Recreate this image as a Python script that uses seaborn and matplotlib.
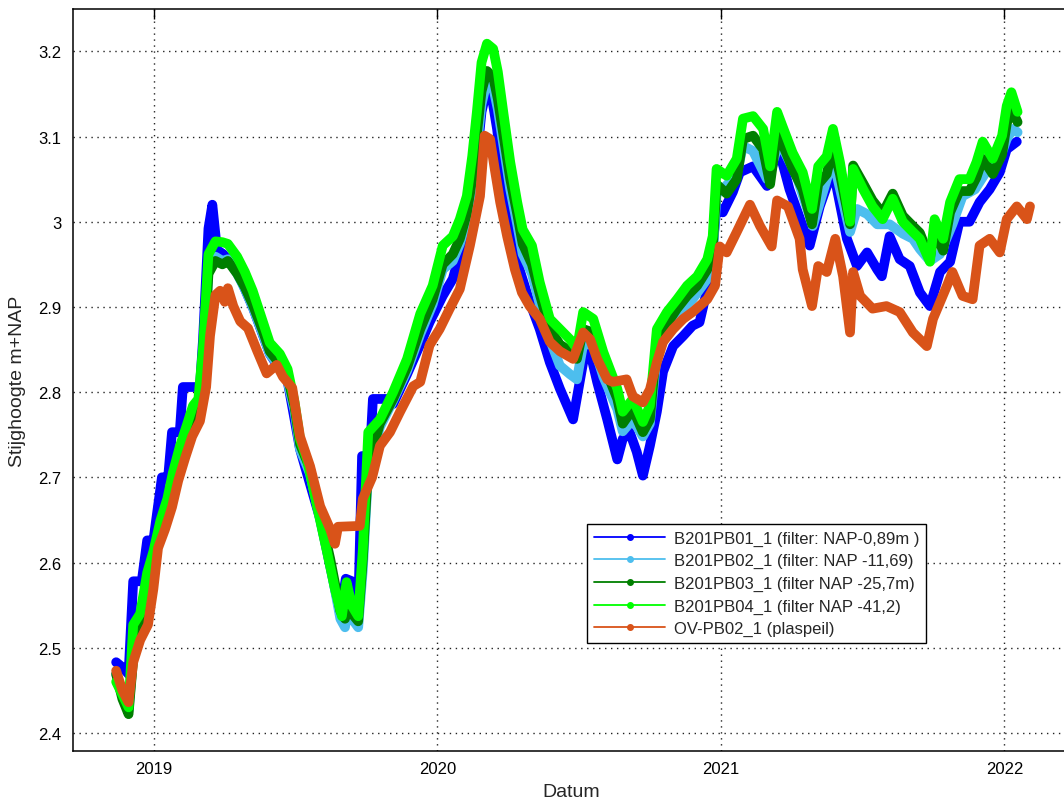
import pandas as pd
import numpy as np
import matplotlib
matplotlib.use('Agg')
import matplotlib.pyplot as plt
import matplotlib.dates as mdates
from matplotlib.lines import Line2D
import seaborn as sns

# --- data (datum, stijghoogte m+NAP) ---
pb01_dates = ['2018-11-13', '2018-11-21', '2018-11-29', '2018-12-05', '2018-12-16', '2018-12-23', '2018-12-31',
              '2019-01-11', '2019-01-19', '2019-01-24', '2019-02-03', '2019-02-07', '2019-02-20', '2019-03-01',
              '2019-03-05', '2019-03-12', '2019-03-17', '2019-03-23', '2019-03-31', '2019-04-18', '2019-05-08',
              '2019-05-30', '2019-06-22', '2019-07-08', '2019-08-03', '2019-08-29', '2019-09-05', '2019-09-13',
              '2019-09-21', '2019-09-26', '2019-10-06', '2019-10-10', '2019-10-28', '2019-11-05', '2019-11-23',
              '2019-12-10', '2019-12-22', '2020-01-08', '2020-01-21', '2020-02-03', '2020-02-16', '2020-02-27',
              '2020-03-05', '2020-03-11', '2020-03-18', '2020-03-26', '2020-04-04', '2020-04-16', '2020-04-29',
              '2020-05-12', '2020-05-25', '2020-06-07', '2020-06-24', '2020-07-07', '2020-07-16', '2020-07-25',
              '2020-08-07', '2020-08-20', '2020-08-27', '2020-09-05', '2020-09-14', '2020-09-22', '2020-10-01',
              '2020-10-10', '2020-10-18', '2020-10-31', '2020-11-13', '2020-11-25', '2020-12-04', '2020-12-17',
              '2020-12-26', '2021-01-03', '2021-01-16', '2021-01-25', '2021-02-11', '2021-03-01', '2021-03-15',
              '2021-03-30', '2021-04-25', '2021-05-08', '2021-05-25', '2021-06-12', '2021-06-25', '2021-07-08',
              '2021-07-21', '2021-07-27', '2021-08-06', '2021-08-19', '2021-09-01', '2021-09-14', '2021-09-27',
              '2021-10-10', '2021-10-23', '2021-11-04', '2021-11-17', '2021-11-30', '2021-12-13', '2021-12-26',
              '2022-01-04', '2022-01-17']
pb01_values = [2.483, 2.477, 2.469, 2.578, 2.578, 2.626, 2.626,
               2.700, 2.700, 2.753, 2.753, 2.806, 2.806, 2.806,
               2.862, 2.992, 3.020, 2.967, 2.962, 2.942, 2.900,
               2.845, 2.813, 2.733, 2.651, 2.540, 2.581, 2.578,
               2.543, 2.725, 2.725, 2.792, 2.792, 2.786, 2.821,
               2.856, 2.882, 2.913, 2.933, 2.976, 3.030, 3.129,
               3.156, 3.148, 3.109, 3.050, 3.000, 2.944, 2.906,
               2.874, 2.835, 2.804, 2.768, 2.835, 2.847, 2.812,
               2.768, 2.721, 2.745, 2.753, 2.730, 2.702, 2.737,
               2.777, 2.824, 2.854, 2.866, 2.878, 2.882, 2.933,
               3.018, 3.011, 3.035, 3.058, 3.065, 3.042, 3.089,
               3.038, 2.972, 3.018, 3.062, 2.980, 2.948, 2.964,
               2.944, 2.936, 2.983, 2.956, 2.948, 2.917, 2.901,
               2.941, 2.953, 3.000, 3.000, 3.023, 3.038, 3.058,
               3.085, 3.094]

pb02_dates = ['2018-11-13', '2018-11-29', '2018-12-06', '2018-12-14', '2018-12-23', '2018-12-31', '2019-01-09',
              '2019-01-18', '2019-01-25', '2019-02-03', '2019-02-12', '2019-02-20', '2019-02-27', '2019-03-05',
              '2019-03-12', '2019-03-21', '2019-03-30', '2019-04-06', '2019-04-18', '2019-04-28', '2019-05-08',
              '2019-05-21', '2019-05-30', '2019-06-12', '2019-06-22', '2019-07-01', '2019-07-08', '2019-07-21',
              '2019-08-03', '2019-08-16', '2019-08-29', '2019-09-04', '2019-09-08', '2019-09-13', '2019-09-21',
              '2019-09-27', '2019-10-04', '2019-10-19', '2019-11-05', '2019-11-23', '2019-12-10', '2019-12-26',
              '2020-01-08', '2020-01-21', '2020-01-30', '2020-02-08', '2020-02-15', '2020-02-21', '2020-02-27',
              '2020-03-05', '2020-03-13', '2020-03-19', '2020-03-26', '2020-04-04', '2020-04-13', '2020-04-20',
              '2020-05-02', '2020-05-12', '2020-05-25', '2020-06-07', '2020-06-20', '2020-06-29', '2020-07-07',
              '2020-07-20', '2020-08-02', '2020-08-20', '2020-08-27', '2020-09-09', '2020-09-22', '2020-10-01',
              '2020-10-10', '2020-10-23', '2020-11-05', '2020-11-18', '2020-11-25', '2020-12-14', '2020-12-21',
              '2020-12-26', '2021-01-03', '2021-01-21', '2021-01-29', '2021-02-11', '2021-03-01', '2021-03-17',
              '2021-04-08', '2021-04-29', '2021-05-25', '2021-06-16', '2021-06-25', '2021-07-08', '2021-07-21',
              '2021-08-06', '2021-08-23', '2021-09-05', '2021-09-14', '2021-09-27', '2021-10-10', '2021-10-26',
              '2021-11-08', '2021-11-24', '2021-12-13', '2021-12-26', '2022-01-04', '2022-01-12', '2022-01-18']
pb02_values = [2.469, 2.426, 2.501, 2.531, 2.571, 2.601, 2.636,
               2.665, 2.692, 2.724, 2.751, 2.773, 2.783, 2.829,
               2.942, 2.959, 2.954, 2.956, 2.939, 2.921, 2.900,
               2.868, 2.845, 2.829, 2.813, 2.778, 2.733, 2.704,
               2.651, 2.598, 2.534, 2.524, 2.551, 2.534, 2.524,
               2.592, 2.710, 2.759, 2.790, 2.825, 2.868, 2.903,
               2.944, 2.954, 2.974, 3.001, 3.038, 3.088, 3.138,
               3.165, 3.158, 3.132, 3.091, 3.038, 2.997, 2.962,
               2.939, 2.903, 2.862, 2.831, 2.821, 2.815, 2.856,
               2.856, 2.818, 2.780, 2.754, 2.768, 2.748, 2.763,
               2.845, 2.868, 2.888, 2.903, 2.909, 2.933, 2.959,
               3.033, 3.038, 3.056, 3.089, 3.083, 3.050, 3.094,
               3.054, 2.995, 3.074, 2.988, 3.015, 3.009, 2.997,
               2.997, 2.986, 2.980, 2.968, 2.954, 2.962, 2.997,
               3.030, 3.038, 3.065, 3.074, 3.097, 3.109, 3.105]

pb03_dates = ['2018-11-13', '2018-11-21', '2018-11-29', '2018-12-06', '2018-12-14', '2018-12-23', '2018-12-31',
              '2019-01-09', '2019-01-18', '2019-01-25', '2019-02-03', '2019-02-12', '2019-02-20', '2019-02-27',
              '2019-03-05', '2019-03-12', '2019-03-21', '2019-03-30', '2019-04-06', '2019-04-18', '2019-04-28',
              '2019-05-08', '2019-05-21', '2019-05-30', '2019-06-12', '2019-06-22', '2019-07-01', '2019-07-08',
              '2019-07-21', '2019-08-03', '2019-08-16', '2019-08-29', '2019-09-04', '2019-09-08', '2019-09-13',
              '2019-09-21', '2019-09-27', '2019-10-04', '2019-10-19', '2019-11-05', '2019-11-23', '2019-12-10',
              '2019-12-26', '2020-01-08', '2020-01-21', '2020-01-30', '2020-02-08', '2020-02-15', '2020-02-21',
              '2020-02-27', '2020-03-05', '2020-03-13', '2020-03-19', '2020-03-26', '2020-04-04', '2020-04-13',
              '2020-04-20', '2020-05-02', '2020-05-12', '2020-05-25', '2020-06-07', '2020-06-20', '2020-06-29',
              '2020-07-07', '2020-07-20', '2020-08-02', '2020-08-20', '2020-08-27', '2020-09-09', '2020-09-22',
              '2020-10-01', '2020-10-10', '2020-10-23', '2020-11-05', '2020-11-18', '2020-12-01', '2020-12-14',
              '2020-12-21', '2020-12-26', '2021-01-08', '2021-01-21', '2021-01-29', '2021-02-11', '2021-02-24',
              '2021-03-05', '2021-03-14', '2021-03-21', '2021-04-03', '2021-04-16', '2021-04-28', '2021-05-06',
              '2021-05-17', '2021-05-25', '2021-06-03', '2021-06-16', '2021-06-20', '2021-07-03', '2021-07-15',
              '2021-07-28', '2021-08-10', '2021-08-23', '2021-09-05', '2021-09-14', '2021-09-27', '2021-10-03',
              '2021-10-14', '2021-10-23', '2021-11-04', '2021-11-17', '2021-11-26', '2021-12-04', '2021-12-17',
              '2021-12-29', '2022-01-04', '2022-01-10', '2022-01-18']
pb03_values = [2.469, 2.440, 2.422, 2.498, 2.528, 2.569, 2.598,
               2.634, 2.663, 2.690, 2.721, 2.748, 2.771, 2.780,
               2.827, 2.939, 2.954, 2.950, 2.954, 2.939, 2.923,
               2.903, 2.872, 2.848, 2.833, 2.818, 2.783, 2.739,
               2.710, 2.657, 2.604, 2.543, 2.534, 2.559, 2.540,
               2.531, 2.604, 2.716, 2.763, 2.792, 2.829, 2.874,
               2.909, 2.950, 2.962, 2.980, 3.009, 3.050, 3.103,
               3.153, 3.177, 3.170, 3.144, 3.103, 3.050, 3.009,
               2.974, 2.950, 2.915, 2.874, 2.856, 2.848, 2.839,
               2.874, 2.870, 2.833, 2.792, 2.763, 2.780, 2.753,
               2.768, 2.856, 2.880, 2.898, 2.913, 2.925, 2.944,
               2.968, 3.044, 3.033, 3.050, 3.097, 3.101, 3.085,
               3.044, 3.105, 3.091, 3.062, 3.038, 2.997, 3.044,
               3.056, 3.088, 3.056, 2.997, 3.066, 3.045, 3.025,
               3.010, 3.033, 3.007, 2.995, 2.987, 2.957, 2.990,
               2.966, 3.011, 3.036, 3.036, 3.052, 3.074, 3.056,
               3.079, 3.115, 3.132, 3.117]

pb04_dates = ['2018-11-13', '2018-11-29', '2018-12-05', '2018-12-14', '2018-12-23', '2018-12-31', '2019-01-09',
              '2019-01-18', '2019-01-25', '2019-02-03', '2019-02-12', '2019-02-20', '2019-02-27', '2019-03-05',
              '2019-03-12', '2019-03-21', '2019-03-30', '2019-04-06', '2019-04-18', '2019-04-28', '2019-05-08',
              '2019-05-21', '2019-05-30', '2019-06-12', '2019-06-22', '2019-07-01', '2019-07-08', '2019-07-17',
              '2019-07-30', '2019-08-12', '2019-08-22', '2019-08-31', '2019-09-06', '2019-09-13', '2019-09-21',
              '2019-09-27', '2019-10-04', '2019-10-19', '2019-11-05', '2019-11-23', '2019-12-10', '2019-12-26',
              '2020-01-08', '2020-01-21', '2020-01-30', '2020-02-08', '2020-02-15', '2020-02-21', '2020-02-27',
              '2020-03-05', '2020-03-13', '2020-03-19', '2020-03-26', '2020-04-04', '2020-04-13', '2020-04-20',
              '2020-05-02', '2020-05-12', '2020-05-25', '2020-06-07', '2020-06-20', '2020-06-29', '2020-07-07',
              '2020-07-20', '2020-08-02', '2020-08-20', '2020-08-27', '2020-09-09', '2020-09-22', '2020-10-01',
              '2020-10-10', '2020-10-23', '2020-11-05', '2020-11-18', '2020-12-01', '2020-12-14', '2020-12-21',
              '2020-12-26', '2021-01-08', '2021-01-21', '2021-01-29', '2021-02-11', '2021-02-24', '2021-03-05',
              '2021-03-14', '2021-03-21', '2021-04-03', '2021-04-16', '2021-04-28', '2021-05-06', '2021-05-17',
              '2021-05-25', '2021-06-03', '2021-06-16', '2021-06-20', '2021-07-03', '2021-07-15', '2021-07-28',
              '2021-08-10', '2021-08-23', '2021-09-05', '2021-09-14', '2021-09-27', '2021-10-03', '2021-10-14',
              '2021-10-23', '2021-11-04', '2021-11-17', '2021-11-26', '2021-12-04', '2021-12-17', '2021-12-29',
              '2022-01-04', '2022-01-10', '2022-01-18']
pb04_values = [2.460, 2.430, 2.527, 2.540, 2.588, 2.613, 2.649,
               2.675, 2.705, 2.736, 2.761, 2.784, 2.792, 2.853,
               2.962, 2.977, 2.976, 2.974, 2.959, 2.941, 2.919,
               2.883, 2.858, 2.845, 2.827, 2.788, 2.745, 2.721,
               2.666, 2.612, 2.569, 2.537, 2.577, 2.549, 2.537,
               2.616, 2.753, 2.768, 2.800, 2.839, 2.892, 2.925,
               2.972, 2.983, 3.003, 3.030, 3.077, 3.129, 3.187,
               3.209, 3.203, 3.176, 3.129, 3.070, 3.023, 2.991,
               2.972, 2.929, 2.886, 2.874, 2.862, 2.851, 2.894,
               2.886, 2.847, 2.804, 2.777, 2.792, 2.765, 2.784,
               2.874, 2.894, 2.909, 2.925, 2.936, 2.956, 2.983,
               3.062, 3.054, 3.074, 3.121, 3.124, 3.109, 3.065,
               3.129, 3.112, 3.081, 3.058, 3.015, 3.065, 3.077,
               3.109, 3.070, 3.000, 3.062, 3.038, 3.018, 3.003,
               3.027, 3.000, 2.988, 2.980, 2.953, 3.003, 2.980,
               3.023, 3.050, 3.050, 3.070, 3.094, 3.074, 3.101,
               3.136, 3.152, 3.129]

ov_dates = ['2018-11-13', '2018-11-21', '2018-11-29', '2018-12-05', '2018-12-14', '2018-12-24', '2018-12-31',
            '2019-01-06', '2019-01-15', '2019-01-24', '2019-02-01', '2019-02-10', '2019-02-19', '2019-03-01',
            '2019-03-09', '2019-03-14', '2019-03-21', '2019-03-27', '2019-04-02', '2019-04-06', '2019-04-13',
            '2019-04-22', '2019-05-02', '2019-05-14', '2019-05-26', '2019-06-08', '2019-06-16', '2019-06-28',
            '2019-07-08', '2019-07-21', '2019-08-03', '2019-08-16', '2019-08-22', '2019-08-26', '2019-09-23',
            '2019-09-27', '2019-10-09', '2019-10-19', '2019-11-01', '2019-11-14', '2019-12-01', '2019-12-10',
            '2019-12-22', '2020-01-04', '2020-01-17', '2020-01-30', '2020-02-12', '2020-02-25', '2020-03-02',
            '2020-03-09', '2020-03-15', '2020-03-22', '2020-03-31', '2020-04-10', '2020-04-19', '2020-04-29',
            '2020-05-12', '2020-05-25', '2020-06-07', '2020-06-24', '2020-07-07', '2020-07-16', '2020-07-25',
            '2020-08-07', '2020-08-14', '2020-09-01', '2020-09-09', '2020-09-22', '2020-10-01', '2020-10-10',
            '2020-10-18', '2020-10-31', '2020-11-13', '2020-11-25', '2020-12-14', '2020-12-24', '2020-12-30',
            '2021-01-08', '2021-01-21', '2021-02-07', '2021-02-20', '2021-03-07', '2021-03-14', '2021-03-28',
            '2021-04-12', '2021-04-16', '2021-04-28', '2021-05-06', '2021-05-17', '2021-05-28', '2021-06-07',
            '2021-06-16', '2021-06-20', '2021-06-29', '2021-07-15', '2021-08-02', '2021-08-19', '2021-09-05',
            '2021-09-23', '2021-10-01', '2021-10-19', '2021-10-26', '2021-11-08', '2021-11-21', '2021-11-30',
            '2021-12-13', '2021-12-26', '2022-01-04', '2022-01-17', '2022-01-30', '2022-02-03']
ov_values = [2.473, 2.450, 2.436, 2.483, 2.509, 2.527, 2.569,
             2.617, 2.639, 2.665, 2.696, 2.723, 2.748, 2.766,
             2.806, 2.866, 2.914, 2.919, 2.906, 2.922, 2.901,
             2.883, 2.875, 2.848, 2.822, 2.832, 2.818, 2.805,
             2.748, 2.713, 2.666, 2.639, 2.622, 2.642, 2.643,
             2.675, 2.700, 2.737, 2.753, 2.777, 2.807, 2.812,
             2.855, 2.874, 2.898, 2.921, 2.972, 3.030, 3.101,
             3.097, 3.062, 3.023, 2.983, 2.944, 2.917, 2.901,
             2.886, 2.859, 2.848, 2.839, 2.870, 2.862, 2.839,
             2.815, 2.812, 2.815, 2.795, 2.788, 2.803, 2.835,
             2.859, 2.874, 2.886, 2.894, 2.909, 2.925, 2.971,
             2.964, 2.988, 3.020, 2.995, 2.971, 3.025, 3.018,
             2.980, 2.944, 2.901, 2.948, 2.941, 2.980, 2.936,
             2.870, 2.941, 2.913, 2.898, 2.901, 2.894, 2.870,
             2.854, 2.886, 2.925, 2.941, 2.913, 2.909, 2.972,
             2.980, 2.964, 3.003, 3.018, 3.003, 3.018]

labels = ['B201PB01_1 (filter: NAP-0,89m )',
          'B201PB02_1 (filter: NAP -11,69)',
          'B201PB03_1 (filter NAP -25,7m)',
          'B201PB04_1 (filter NAP -41,2)',
          'OV-PB02_1 (plaspeil)']
colors = ['#0000FF', '#4DBEEE', '#007F00', '#00FF00', '#D95319']

y_ticks = [2.4, 2.5, 2.6, 2.7, 2.8, 2.9, 3.0, 3.1, 3.2]
x_ticks = ['2019-01-01', '2020-01-01', '2021-01-01', '2022-01-01']

# --- long table for seaborn ---
series = [(pb01_dates, pb01_values), (pb02_dates, pb02_values), (pb03_dates, pb03_values),
          (pb04_dates, pb04_values), (ov_dates, ov_values)]
frames = []
for lab, (d, v) in zip(labels, series):
    frames.append(pd.DataFrame({'Datum': pd.to_datetime(d), 'Stijghoogte': v, 'reeks': lab}))
df = pd.concat(frames, ignore_index=True)

sns.set_style('white')
plt.rcParams['font.family'] = ['Liberation Sans', 'DejaVu Sans']

fig = plt.figure(figsize=(10.64, 8.03), dpi=100)
ax = fig.add_axes([72.7 / 1064, 1 - 752 / 803, (1075 - 72.7) / 1064, 742 / 803])

# thick bands, like the dense marker traces of the original
sns.lineplot(data=df, x='Datum', y='Stijghoogte', hue='reeks', hue_order=labels,
             palette=dict(zip(labels, colors)), estimator=None, sort=True,
             lw=7, solid_joinstyle='round', solid_capstyle='round', legend=False, ax=ax)

ax.set_xlim(pd.Timestamp('2018-09-18'), pd.Timestamp('2022-04-02'))
ax.set_ylim(2.3788, 3.2497)
ax.set_yticks(y_ticks)
ax.set_yticklabels([f'{v:g}' for v in y_ticks])
ax.set_xticks(pd.to_datetime(x_ticks))
ax.xaxis.set_major_formatter(mdates.DateFormatter('%Y'))

ax.grid(True, color='#222222', linestyle=(0, (1, 3.3)), linewidth=1.0)
ax.tick_params(direction='in', length=7, width=1, top=True, right=True,
               labelsize=12, colors='black')
ax.tick_params(axis='y', pad=8)
ax.tick_params(axis='x', pad=7)
for s in ax.spines.values():
    s.set_color('black')
    s.set_linewidth(1.1)

ax.set_xlabel('Datum', fontsize=14)
ax.set_ylabel('Stijghoogte m+NAP', fontsize=14)
ax.xaxis.set_label_coords(0.497, -0.043)
ax.yaxis.set_label_coords(-0.047, 0.5)

handles = [Line2D([0], [0], color=c, lw=1.3, marker='.', ms=8) for c in colors]
leg = ax.legend(handles, labels, loc='upper left', bbox_to_anchor=(587 / 1064, 1 - 525 / 803),
                bbox_transform=fig.transFigure, borderaxespad=0, fontsize=12,
                handlelength=4.3, handletextpad=0.5, labelspacing=0.45,
                frameon=True, fancybox=False, edgecolor='black', framealpha=1)
leg.get_frame().set_linewidth(1.0)

fig.savefig('out.png', dpi=100)
